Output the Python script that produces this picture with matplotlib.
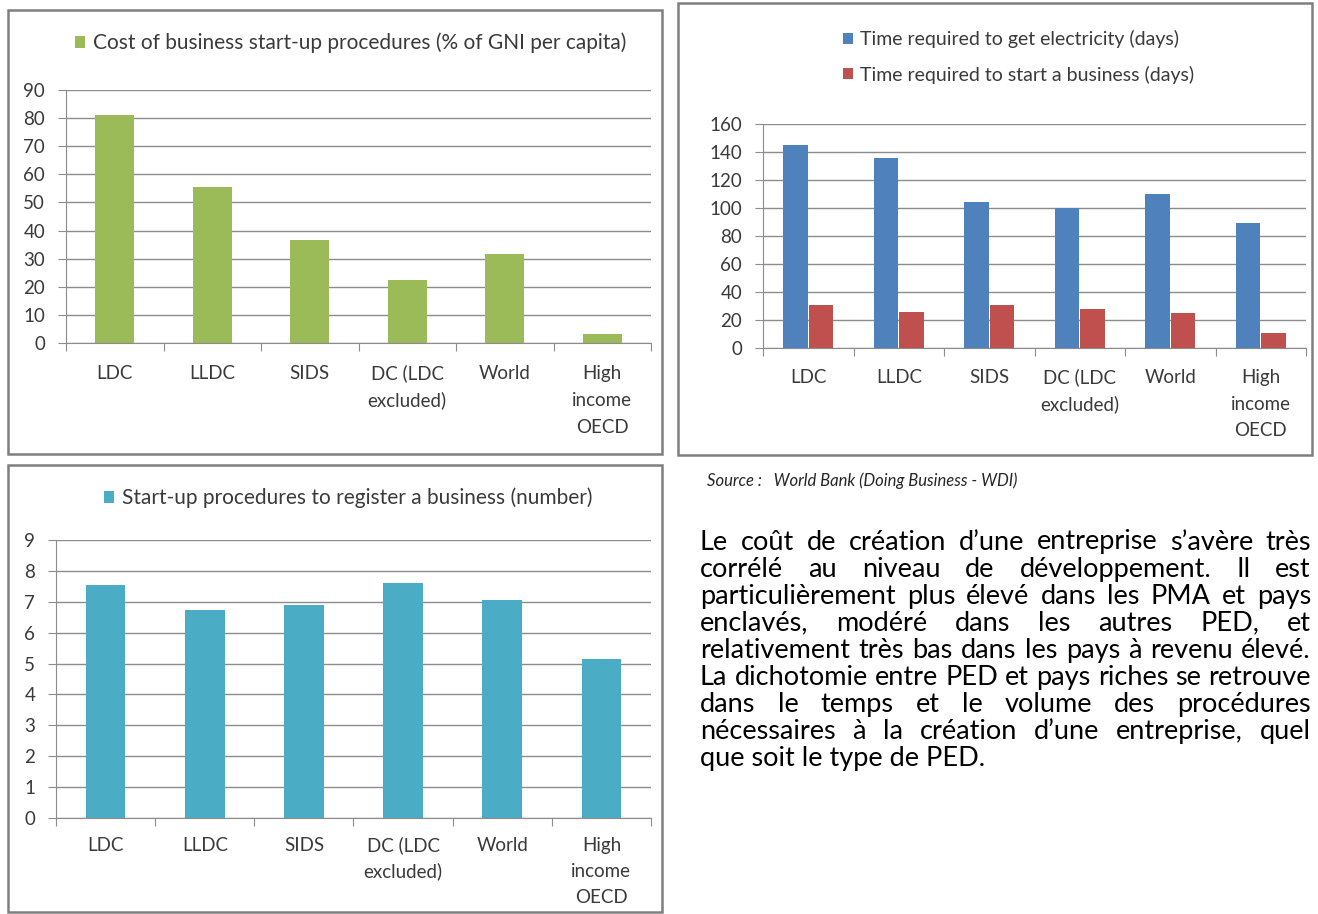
import matplotlib
matplotlib.use("Agg")
import matplotlib.pyplot as plt
from matplotlib.patches import Rectangle
from matplotlib.transforms import offset_copy

# Datos
categorias = ["LDC", "LLDC", "SIDS", "DC (LDC\nexcluded)", "World", "High\nincome\nOECD"]
coste_creacion = [81, 55.5, 36.5, 22.5, 31.5, 3.2]
dias_electricidad = [145, 136, 104, 100, 110, 89]
dias_empresa = [31, 26, 31, 28, 25, 11]
procedimientos = [7.55, 6.75, 6.9, 7.6, 7.05, 5.15]

texto = [
    "Le coût de création d’une entreprise s’avère  très",
    "corrélé au niveau de développement. Il est",
    "particulièrement plus élevé dans les PMA et pays",
    "enclavés, modéré dans les autres PED, et",
    "relativement très bas dans les pays à revenu élevé.",
    "La dichotomie entre PED et pays riches se retrouve",
    "dans le temps et le volume des procédures",
    "nécessaires à la création d’une entreprise, quel",
    "que soit le type de PED.",
]

W, H = 1318, 914
GRIS = "#8c8c8c"
TXT = "#3a3a3a"

plt.rcParams["font.family"] = ["Lato", "DejaVu Sans"]
fig = plt.figure(figsize=(W / 100, H / 100), dpi=100)


def ejes_px(x0, y_top, x1, y_bot):
    return fig.add_axes([x0 / W, 1 - y_bot / H, (x1 - x0) / W, (y_bot - y_top) / H])


def marco(x0, y0, x1, y1):
    fig.add_artist(Rectangle((x0 / W, 1 - y1 / H), (x1 - x0) / W, (y1 - y0) / H,
                             transform=fig.transFigure, fill=False, ec="#7f7f7f", lw=1.8))


def estilo(ax, ymax, paso, sep=26, interlinea=19.5):
    ax.set_xlim(-0.5, len(categorias) - 0.5)
    ax.set_ylim(0, ymax)
    ax.set_yticks(range(0, ymax + 1, paso))
    ax.grid(axis="y", color=GRIS, lw=1)
    ax.set_axisbelow(True)
    for s in ["top", "right"]:
        ax.spines[s].set_visible(False)
    for s in ["left", "bottom"]:
        ax.spines[s].set_color(GRIS)
    # etiquetas de categoría dibujadas a mano, una línea cada vez
    ax.set_xticks([i - 0.5 for i in range(len(categorias) + 1)])
    ax.set_xticklabels([])
    ax.tick_params(axis="x", length=6, color=GRIS)
    ax.tick_params(axis="y", length=6, color=GRIS, labelsize=13.5, labelcolor=TXT, pad=9)
    for i, c in enumerate(categorias):
        for k, linea in enumerate(c.split("\n")):
            trans = offset_copy(ax.get_xaxis_transform(), fig=fig,
                                y=-(sep + k * interlinea), units="points")
            ax.text(i, 0, linea, transform=trans, ha="center", va="baseline",
                    fontsize=13.5, color=TXT)


def leyenda(ax, x, y, size=15, sep=0.5):
    ax.legend(loc="center left", bbox_to_anchor=(x / W, 1 - y / H), bbox_transform=fig.transFigure,
              frameon=False, fontsize=size, handlelength=0.5, handleheight=0.5, handletextpad=0.35,
              borderaxespad=0, borderpad=0, labelspacing=sep, labelcolor=TXT)


x = list(range(len(categorias)))

# Panel 1: coste de creación
ax1 = ejes_px(66, 90, 651, 343)
ax1.bar(x, coste_creacion, width=0.4, color="#9BBB59",
        label="Cost of business start-up procedures (% of GNI per capita)")
estilo(ax1, 90, 10, sep=26)
leyenda(ax1, 75, 43)
marco(8, 10, 662, 454)

# Panel 2: tiempos
ax2 = ejes_px(763, 124, 1306, 348)
ax2.bar([i - 0.14 for i in x], dias_electricidad, width=0.27, color="#4F81BD",
        label="Time required to get electricity (days)")
ax2.bar([i + 0.14 for i in x], dias_empresa, width=0.27, color="#C0504D",
        label="Time required to start a business (days)")
estilo(ax2, 160, 20, sep=25.5, interlinea=19)
leyenda(ax2, 843, 57, size=14, sep=0.9)
marco(678, 3, 1312, 455)

# Panel 3: procedimientos
ax3 = ejes_px(56, 540, 651, 818)
ax3.bar(x, procedimientos, width=0.4, color="#4BACC6",
        label="Start-up procedures to register a business (number)")
estilo(ax3, 9, 1, sep=24, interlinea=18.5)
leyenda(ax3, 104, 498)
marco(8, 465, 662, 912)

# Fuente
fig.text(707 / W, 1 - 481 / H, "Source :   World Bank (Doing Business - WDI)",
         fontsize=12, style="italic", color="#262626", va="center")


# Texto justificado
def justificar(lineas, x0, x1, y0, interlinea, ref):
    r = fig.canvas.get_renderer()
    prueba = fig.text(0, 0, lineas[ref], fontsize=14)
    size = 14 * (x1 - x0) / prueba.get_window_extent(r).width
    prueba.remove()
    for i, linea in enumerate(lineas):
        y = 1 - (y0 + i * interlinea) / H
        if i == len(lineas) - 1:
            fig.text(x0 / W, y, linea, fontsize=size, va="center", color="black")
            continue
        palabras = linea.split()
        textos = [fig.text(0, y, p, fontsize=size, va="center", color="black") for p in palabras]
        anchos = [t.get_window_extent(r).width for t in textos]
        hueco = (x1 - x0 - sum(anchos)) / (len(palabras) - 1)
        pos = x0
        for t, a in zip(textos, anchos):
            t.set_x(pos / W)
            pos += a + hueco


justificar(texto, 700, 1311, 542, 27.1, 5)

fig.savefig("out.png", dpi=100)
